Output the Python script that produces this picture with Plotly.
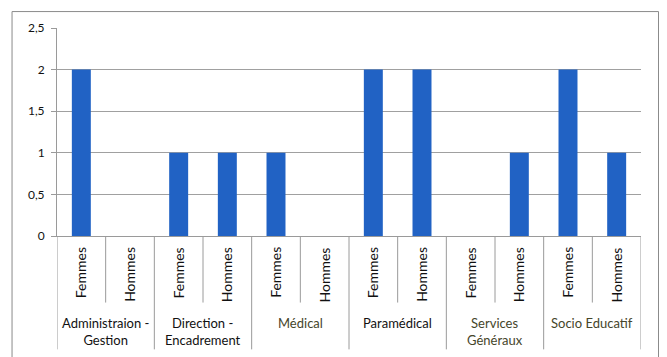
import plotly.graph_objects as go

groups = ["Administraion -<br>Gestion", "Direction -<br>Encadrement", "Médical",
          "Paramédical", "Services<br>Généraux", "Socio Educatif"]
group_colors = ["#111111", "#111111", "#45452a", "#111111", "#45452a", "#45452a"]
sexes = ["Femmes", "Hommes"]
values = [2, 0, 1, 1, 1, 0, 2, 2, 0, 1, 2, 1]
y_ticks = [0, 0.5, 1, 1.5, 2, 2.5]

n = len(groups) * len(sexes)
xs = list(range(n))
inner_labels = [sexes[i % 2] for i in xs]

fig = go.Figure(go.Bar(x=xs, y=values, marker_color="#2162C4", width=0.39,
                       marker_line_width=0))

FONT = "Lato, 'Open Sans', sans-serif"
shapes = []
annotations = []
# inner label annotations
for i, lab in zip(xs, inner_labels):
    annotations.append(dict(x=i, xref="x", y=-0.045, yref="paper", text=lab,
                            textangle=-90, showarrow=False, yanchor="top",
                            xanchor="center", font=dict(size=14, color="#111111", family=FONT)))
# separators
for i in range(n + 1):
    group_edge = (i % 2 == 0)
    shapes.append(dict(type="line", xref="x", yref="paper", x0=i - 0.5, x1=i - 0.5,
                       y0=0, y1=-0.545 if group_edge else -0.32,
                       line=dict(color="#9a9a9a", width=1)))
# group labels
for g, (lab, col) in enumerate(zip(groups, group_colors)):
    annotations.append(dict(x=2 * g + 0.5, xref="x", y=-0.37, yref="paper", text=lab,
                            showarrow=False, yanchor="top", xanchor="center",
                            font=dict(size=13, color=col, family=FONT)))
# outer frame
shapes.append(dict(type="path", xref="paper", yref="paper",
                   path="M -0.077,-0.6 L -0.077,1.079 L 1.03,1.079 L 1.03,-0.6",
                   line=dict(color="#8a8a8a", width=1)))

# the page adds an 8px body margin, so the figure is sized to the remaining area
fig.update_layout(
    width=659, height=349,
    margin=dict(l=49, r=26, t=17, b=121),
    paper_bgcolor="white", plot_bgcolor="white",
    separators=", ",
    showlegend=False,
    font=dict(family=FONT, size=12, color="#111111"),
    xaxis=dict(range=[-0.5, n - 0.5], showticklabels=False, showgrid=False,
               zeroline=False, showline=True, linecolor="#9a9a9a", ticks=""),
    yaxis=dict(range=[0, 2.5], tickvals=y_ticks, showgrid=True, gridcolor="#a0a0a0",
               zeroline=False, showline=True, linecolor="#9a9a9a", ticks="outside",
               ticklen=5, tickcolor="#9a9a9a", tickfont=dict(size=12, color="#111111"),
               ticklabelstandoff=4),
    shapes=shapes,
    annotations=annotations,
)
fig.write_html("out.html")
